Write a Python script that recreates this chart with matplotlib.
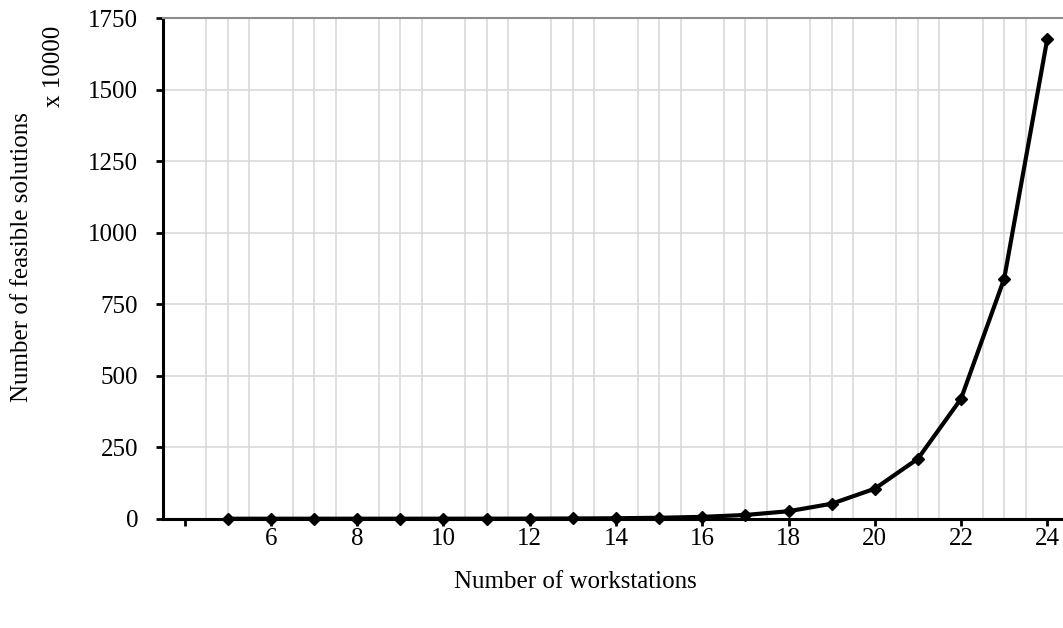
import matplotlib.pyplot as plt
import matplotlib

matplotlib.rcParams['font.family'] = ['Liberation Serif', 'DejaVu Serif']

# workstations vs feasible solutions (x 10000)
stations = [5, 6, 7, 8, 9, 10, 11, 12, 13, 14, 15, 16, 17, 18, 19, 20, 21, 22, 23, 24]
solutions = [0.0032, 0.0064, 0.0128, 0.0256, 0.0512, 0.1024, 0.2048, 0.4096, 0.8192, 1.64,
             3.28, 6.55, 13.1, 26.2, 52.4, 104.9, 209.7, 419.4, 838.9, 1677.7]
xticks = [4, 6, 8, 10, 12, 14, 16, 18, 20, 22, 24]
xticklabels = ['', '6', '8', '10', '12', '14', '16', '18', '20', '22', '24']
xgrid = [4 + 0.5 * i for i in range(42)]
yticks = [0, 250, 500, 750, 1000, 1250, 1500, 1750]

fig = plt.figure(figsize=(10.63, 6.28), dpi=100)
ax = fig.add_axes([0.1535, 0.174, 0.852, 0.797])

ax.plot(stations, solutions, color='black', linewidth=3, marker='D', markersize=6.5,
        zorder=3, clip_on=False)

ax.set_xlim(3.5, 24.5)
ax.set_ylim(0, 1750)
ax.set_xticks(xticks)
ax.set_xticklabels(xticklabels)
ax.set_xticks(xgrid, minor=True)
ax.set_yticks(yticks)
ax.grid(True, which='minor', axis='x', color='#d9d9d9', linewidth=1.2)
ax.grid(True, which='major', axis='y', color='#d9d9d9', linewidth=1.2)
ax.set_axisbelow(True)

ax.tick_params(axis='both', which='major', labelsize=18, direction='out', length=5, width=2)
ax.tick_params(axis='x', which='major', pad=2)
ax.tick_params(axis='y', which='major', pad=13)
ax.tick_params(axis='x', which='minor', length=0)

for s in ['left', 'bottom']:
    ax.spines[s].set_linewidth(2.2)
    ax.spines[s].set_color('black')
ax.spines['top'].set_color('#8c8c8c')
ax.spines['top'].set_linewidth(1.5)
ax.spines['right'].set_visible(False)

fig.text(0.021, 0.591, 'Number of feasible solutions', rotation=90, fontsize=18,
         ha='center', va='center')
fig.text(0.051, 0.895, 'x 10000', rotation=90, fontsize=18, ha='center', va='center')
fig.text(0.541, 0.073, 'Number of workstations', fontsize=18, ha='center', va='center')

plt.savefig('out.png', dpi=100)
